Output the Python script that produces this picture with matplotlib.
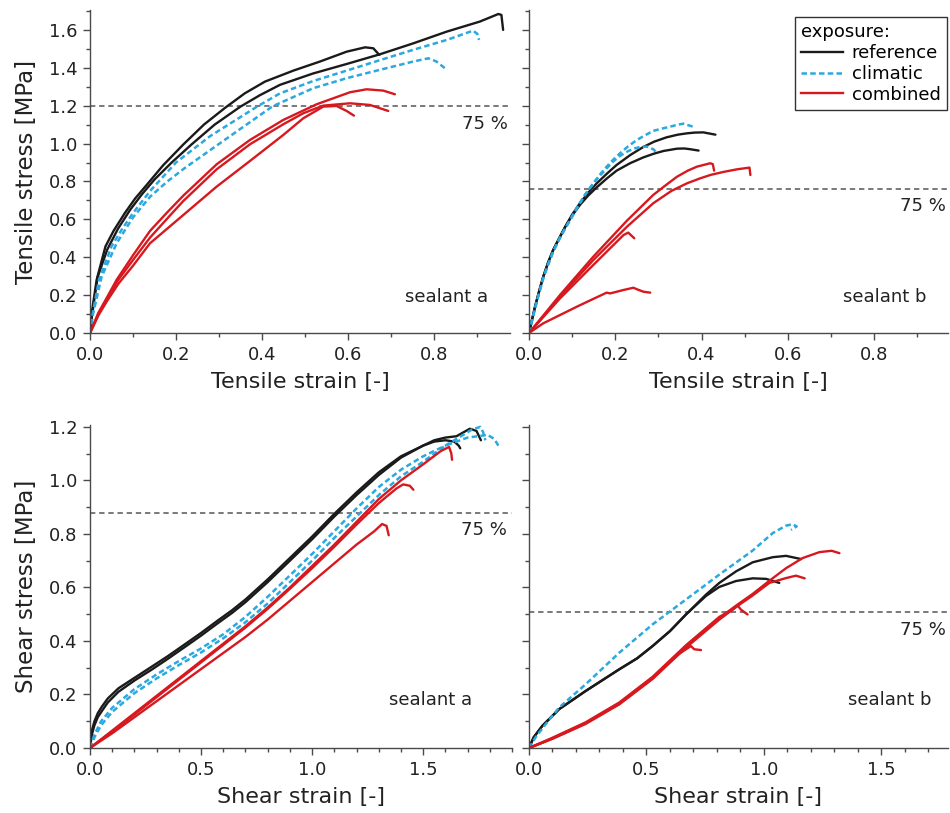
import matplotlib
matplotlib.use("Agg")
import matplotlib.pyplot as plt
import matplotlib.transforms as mtransforms
from matplotlib.lines import Line2D
from matplotlib.ticker import MultipleLocator

plt.rcParams['font.family'] = ['DejaVu Sans']

# ---------------- tensile test, sealant a ----------------
ta_ref1_x = [0, 0.004, 0.0155, 0.036, 0.055, 0.081, 0.105, 0.135, 0.17, 0.217, 0.265, 0.315, 0.36, 0.407, 0.473, 0.535, 0.597, 0.640, 0.659, 0.673]
ta_ref1_y = [0, 0.105, 0.281, 0.457, 0.54, 0.633, 0.71, 0.79, 0.885, 0.995, 1.10, 1.19, 1.265, 1.327, 1.385, 1.433, 1.485, 1.508, 1.503, 1.468]
ta_ref2_x = [0, 0.005, 0.018, 0.040, 0.065, 0.093, 0.12, 0.15, 0.19, 0.236, 0.29, 0.35, 0.395, 0.442, 0.519, 0.597, 0.674, 0.752, 0.830, 0.907, 0.950, 0.957, 0.961]
ta_ref2_y = [0, 0.100, 0.297, 0.440, 0.55, 0.649, 0.73, 0.81, 0.90, 0.995, 1.10, 1.195, 1.255, 1.31, 1.37, 1.42, 1.471, 1.529, 1.591, 1.644, 1.684, 1.679, 1.600]
ta_cli1_x = [0, 0.006, 0.021, 0.050, 0.075, 0.100, 0.14, 0.20, 0.28, 0.39, 0.442, 0.519, 0.597, 0.674, 0.752, 0.830, 0.891, 0.901, 0.905]
ta_cli1_y = [0, 0.10, 0.281, 0.457, 0.55, 0.633, 0.75, 0.90, 1.04, 1.197, 1.265, 1.33, 1.385, 1.44, 1.495, 1.547, 1.596, 1.579, 1.547]
ta_cli2_x = [0, 0.007, 0.027, 0.062, 0.10, 0.14, 0.18, 0.22, 0.32, 0.425, 0.519, 0.597, 0.674, 0.752, 0.787, 0.806, 0.826]
ta_cli2_y = [0, 0.10, 0.297, 0.474, 0.61, 0.72, 0.80, 0.87, 1.03, 1.197, 1.292, 1.345, 1.389, 1.433, 1.450, 1.433, 1.397]
ta_com1_x = [0, 0.019, 0.04, 0.062, 0.1, 0.1395, 0.178, 0.2171, 0.2946, 0.3721, 0.4496, 0.5271, 0.6047, 0.6434, 0.6822, 0.7093]
ta_com1_y = [0, 0.105, 0.19, 0.281, 0.41, 0.5385, 0.633, 0.7251, 0.8905, 1.019, 1.1246, 1.2073, 1.2707, 1.2865, 1.2795, 1.2601]
ta_com2_x = [0, 0.02, 0.04, 0.064, 0.1, 0.1395, 0.19, 0.2171, 0.2946, 0.3721, 0.4496, 0.4961, 0.5426, 0.6047, 0.6512, 0.6938]
ta_com2_y = [0, 0.10, 0.18, 0.275, 0.385, 0.5033, 0.63, 0.6969, 0.8641, 0.9961, 1.1017, 1.16, 1.2003, 1.2126, 1.2038, 1.1721]
ta_com3_x = [0, 0.02, 0.04, 0.066, 0.1, 0.1395, 0.2171, 0.2946, 0.3721, 0.4496, 0.4961, 0.5426, 0.5736, 0.5969, 0.614]
ta_com3_y = [0, 0.095, 0.17, 0.26, 0.355, 0.4734, 0.623, 0.7726, 0.9081, 1.0454, 1.1334, 1.195, 1.1985, 1.1721, 1.1475]

# ---------------- tensile test, sealant b ----------------
tb_ref1_x = [0, 0.007, 0.014, 0.024, 0.033, 0.044, 0.056, 0.07, 0.084, 0.1, 0.118, 0.137, 0.157, 0.18, 0.203, 0.235, 0.265, 0.29, 0.319, 0.345, 0.366, 0.385, 0.404, 0.432]
tb_ref1_y = [0, 0.07, 0.139, 0.225, 0.297, 0.37, 0.438, 0.50, 0.561, 0.625, 0.685, 0.74, 0.790, 0.84, 0.887, 0.94, 0.982, 1.01, 1.033, 1.047, 1.054, 1.058, 1.059, 1.047]
tb_ref2_x = [0, 0.007, 0.014, 0.024, 0.033, 0.044, 0.056, 0.07, 0.084, 0.1, 0.118, 0.137, 0.157, 0.18, 0.203, 0.235, 0.265, 0.29, 0.312, 0.343, 0.36, 0.374, 0.393]
tb_ref2_y = [0, 0.07, 0.139, 0.225, 0.297, 0.37, 0.438, 0.50, 0.561, 0.62, 0.676, 0.725, 0.769, 0.815, 0.857, 0.897, 0.927, 0.947, 0.961, 0.973, 0.974, 0.970, 0.963]
tb_cli1_x = [0, 0.007, 0.014, 0.024, 0.033, 0.044, 0.056, 0.07, 0.084, 0.1, 0.114, 0.13, 0.149, 0.165, 0.180, 0.195, 0.211, 0.230, 0.250, 0.27, 0.288, 0.31, 0.327, 0.345, 0.358, 0.380]
tb_cli1_y = [0, 0.065, 0.130, 0.215, 0.289, 0.36, 0.429, 0.495, 0.553, 0.615, 0.671, 0.73, 0.790, 0.838, 0.878, 0.915, 0.949, 0.986, 1.019, 1.045, 1.067, 1.08, 1.089, 1.10, 1.105, 1.089]
tb_cli2_x = [0, 0.007, 0.014, 0.024, 0.033, 0.044, 0.056, 0.07, 0.084, 0.1, 0.114, 0.13, 0.149, 0.165, 0.180, 0.195, 0.211, 0.228, 0.242, 0.258, 0.273, 0.288, 0.296]
tb_cli2_y = [0, 0.065, 0.130, 0.215, 0.289, 0.36, 0.429, 0.495, 0.553, 0.615, 0.671, 0.73, 0.790, 0.832, 0.869, 0.905, 0.935, 0.958, 0.973, 0.982, 0.984, 0.970, 0.952]
tb_com1_x = [0, 0.072, 0.149, 0.227, 0.288, 0.330, 0.366, 0.395, 0.420, 0.45, 0.482, 0.511, 0.513]
tb_com1_y = [0, 0.192, 0.385, 0.561, 0.685, 0.750, 0.790, 0.815, 0.834, 0.85, 0.864, 0.873, 0.834]
tb_com2_x = [0, 0.072, 0.149, 0.227, 0.288, 0.318, 0.343, 0.368, 0.389, 0.420, 0.426, 0.429]
tb_com2_y = [0, 0.201, 0.403, 0.593, 0.729, 0.782, 0.825, 0.857, 0.878, 0.896, 0.891, 0.857]
tb_com3_x = [0, 0.072, 0.149, 0.219, 0.230, 0.236, 0.244]
tb_com3_y = [0, 0.183, 0.359, 0.517, 0.530, 0.517, 0.500]
tb_com4_x = [0, 0.033, 0.072, 0.111, 0.149, 0.180, 0.188, 0.219, 0.242, 0.250, 0.265, 0.281]
tb_com4_y = [0, 0.051, 0.095, 0.139, 0.180, 0.213, 0.209, 0.227, 0.239, 0.231, 0.218, 0.213]

# ---------------- shear test, sealant a ----------------
sa_ref1_x = [0, 0.005, 0.01, 0.02, 0.035, 0.053, 0.08, 0.128, 0.2, 0.278, 0.35, 0.428, 0.5, 0.578, 0.64, 0.7, 0.8, 0.9, 1.0, 1.1, 1.2, 1.3, 1.4, 1.5, 1.55, 1.6, 1.65, 1.71, 1.74, 1.76]
sa_ref1_y = [0, 0.04, 0.07, 0.10, 0.13, 0.154, 0.185, 0.223, 0.262, 0.304, 0.343, 0.388, 0.43, 0.478, 0.515, 0.555, 0.63, 0.71, 0.79, 0.875, 0.955, 1.03, 1.09, 1.13, 1.15, 1.16, 1.165, 1.193, 1.185, 1.15]
sa_ref2_x = [0, 0.005, 0.01, 0.02, 0.035, 0.055, 0.08, 0.128, 0.2, 0.278, 0.35, 0.428, 0.5, 0.578, 0.64, 0.7, 0.8, 0.9, 1.0, 1.1, 1.2, 1.3, 1.4, 1.5, 1.55, 1.6, 1.64, 1.66, 1.667]
sa_ref2_y = [0, 0.03, 0.055, 0.085, 0.115, 0.14, 0.17, 0.21, 0.252, 0.293, 0.333, 0.378, 0.42, 0.468, 0.505, 0.545, 0.62, 0.70, 0.78, 0.865, 0.945, 1.02, 1.085, 1.13, 1.145, 1.15, 1.145, 1.13, 1.12]
sa_cli1_x = [0, 0.02, 0.05, 0.1, 0.2, 0.3, 0.4, 0.5, 0.6, 0.7, 0.8, 0.9, 1.0, 1.1, 1.2, 1.3, 1.4, 1.5, 1.6, 1.67, 1.72, 1.757, 1.77, 1.78]
sa_cli1_y = [0, 0.05, 0.10, 0.15, 0.22, 0.275, 0.325, 0.372, 0.425, 0.49, 0.565, 0.645, 0.725, 0.81, 0.895, 0.975, 1.04, 1.09, 1.13, 1.165, 1.19, 1.20, 1.18, 1.15]
sa_cli2_x = [0, 0.02, 0.05, 0.1, 0.2, 0.3, 0.4, 0.5, 0.6, 0.7, 0.8, 0.9, 1.0, 1.1, 1.2, 1.3, 1.4, 1.5, 1.6, 1.7, 1.79, 1.82, 1.84]
sa_cli2_y = [0, 0.04, 0.085, 0.135, 0.205, 0.26, 0.31, 0.357, 0.41, 0.47, 0.54, 0.62, 0.70, 0.785, 0.865, 0.945, 1.015, 1.07, 1.13, 1.16, 1.17, 1.155, 1.128]
sa_com1_x = [0, 0.1, 0.2, 0.3, 0.4, 0.5, 0.6, 0.7, 0.8, 0.9, 1.0, 1.1, 1.2, 1.3, 1.4, 1.5, 1.58, 1.617, 1.627, 1.63]
sa_com1_y = [0, 0.065, 0.13, 0.195, 0.26, 0.325, 0.39, 0.455, 0.525, 0.60, 0.68, 0.76, 0.845, 0.93, 1.0, 1.06, 1.11, 1.125, 1.10, 1.077]
sa_com2_x = [0, 0.1, 0.2, 0.3, 0.4, 0.5, 0.6, 0.7, 0.8, 0.9, 1.0, 1.1, 1.2, 1.3, 1.38, 1.41, 1.44, 1.456]
sa_com2_y = [0, 0.062, 0.125, 0.19, 0.255, 0.32, 0.385, 0.45, 0.52, 0.595, 0.672, 0.752, 0.835, 0.915, 0.97, 0.985, 0.98, 0.965]
sa_com3_x = [0, 0.1, 0.2, 0.3, 0.4, 0.5, 0.6, 0.7, 0.8, 0.9, 1.0, 1.1, 1.2, 1.28, 1.315, 1.335, 1.345]
sa_com3_y = [0, 0.055, 0.115, 0.175, 0.235, 0.295, 0.355, 0.415, 0.48, 0.55, 0.62, 0.69, 0.76, 0.81, 0.837, 0.83, 0.795]

# ---------------- shear test, sealant b ----------------
sb_ref1_x = [0, 0.02, 0.057, 0.128, 0.241, 0.384, 0.46, 0.526, 0.6, 0.668, 0.753, 0.810, 0.881, 0.952, 1.037, 1.094, 1.158]
sb_ref1_y = [0, 0.04, 0.083, 0.145, 0.213, 0.294, 0.335, 0.381, 0.437, 0.499, 0.573, 0.617, 0.660, 0.694, 0.713, 0.718, 0.706]
sb_ref2_x = [0, 0.02, 0.057, 0.128, 0.241, 0.384, 0.46, 0.526, 0.6, 0.668, 0.753, 0.810, 0.881, 0.952, 1.009, 1.065]
sb_ref2_y = [0, 0.04, 0.083, 0.145, 0.213, 0.294, 0.335, 0.381, 0.437, 0.499, 0.568, 0.602, 0.624, 0.634, 0.632, 0.617]
sb_cli1_x = [0, 0.028, 0.071, 0.128, 0.241, 0.384, 0.526, 0.668, 0.810, 0.952, 1.037, 1.094, 1.122, 1.139, 1.115]
sb_cli1_y = [0, 0.040, 0.089, 0.151, 0.238, 0.356, 0.462, 0.555, 0.648, 0.738, 0.803, 0.831, 0.836, 0.828, 0.815]
sb_com1_x = [0, 0.099, 0.241, 0.384, 0.526, 0.668, 0.810, 0.881, 0.952, 1.023, 1.094, 1.165, 1.236, 1.288, 1.321]
sb_com1_y = [0, 0.036, 0.093, 0.167, 0.263, 0.381, 0.486, 0.532, 0.576, 0.625, 0.672, 0.710, 0.732, 0.737, 0.728]
sb_com2_x = [0, 0.099, 0.241, 0.384, 0.526, 0.668, 0.810, 0.881, 0.952, 1.023, 1.094, 1.136, 1.173]
sb_com2_y = [0, 0.034, 0.090, 0.163, 0.258, 0.375, 0.480, 0.527, 0.570, 0.617, 0.635, 0.644, 0.634]
sb_com3_x = [0, 0.099, 0.241, 0.384, 0.526, 0.668, 0.810, 0.867, 0.888, 0.902, 0.930]
sb_com3_y = [0, 0.038, 0.096, 0.170, 0.266, 0.384, 0.490, 0.517, 0.532, 0.517, 0.499]
sb_com4_x = [0, 0.099, 0.241, 0.384, 0.526, 0.625, 0.689, 0.703, 0.732]
sb_com4_y = [0, 0.035, 0.092, 0.165, 0.260, 0.344, 0.381, 0.369, 0.366]

# ---------------- styles ----------------
C_REF = '#1a1a1a'
C_CLI = '#2aa8e0'
C_COM = '#d7191f'
STYLE = {
    'ref': dict(color=C_REF, lw=1.7, ls='-'),
    'cli': dict(color=C_CLI, lw=1.8, ls=(0, (2.2, 1.3))),
    'com': dict(color=C_COM, lw=1.7, ls='-'),
}
AX_GREY = '#4a4a4a'
TXT = '#222222'

panels = [
    dict(
        rect=[90 / 950, 1 - 333 / 813, 420 / 950, 323 / 813],
        xlim=(0, 0.977), ylim=(0, 1.705), xmaj=0.2, xmin=0.1, ymaj=0.2, ymin=0.1,
        curves=[('ref', ta_ref1_x, ta_ref1_y), ('ref', ta_ref2_x, ta_ref2_y),
                ('cli', ta_cli1_x, ta_cli1_y), ('cli', ta_cli2_x, ta_cli2_y),
                ('com', ta_com1_x, ta_com1_y), ('com', ta_com2_x, ta_com2_y),
                ('com', ta_com3_x, ta_com3_y)],
        name='sealant a', name_pos=(0.85, 0.111), pct_dx=0.995,
        xlabel='Tensile strain [-]', ylabel='Tensile stress [MPa]', ylabels=True,
    ),
    dict(
        rect=[529 / 950, 1 - 333 / 813, 419 / 950, 323 / 813],
        xlim=(0, 0.971), ylim=(0, 1.705), xmaj=0.2, xmin=0.1, ymaj=0.2, ymin=0.1,
        curves=[('ref', tb_ref1_x, tb_ref1_y), ('ref', tb_ref2_x, tb_ref2_y),
                ('cli', tb_cli1_x, tb_cli1_y), ('cli', tb_cli2_x, tb_cli2_y),
                ('com', tb_com1_x, tb_com1_y), ('com', tb_com2_x, tb_com2_y),
                ('com', tb_com3_x, tb_com3_y), ('com', tb_com4_x, tb_com4_y)],
        name='sealant b', name_pos=(0.85, 0.111), pct_dx=0.995,
        xlabel='Tensile strain [-]', ylabel=None, ylabels=False,
    ),
    dict(
        rect=[90 / 950, 1 - 748 / 813, 422 / 950, 323 / 813],
        xlim=(0, 1.90), ylim=(0, 1.207), xmaj=0.5, xmin=0.1, ymaj=0.2, ymin=0.1,
        curves=[('ref', sa_ref1_x, sa_ref1_y), ('ref', sa_ref2_x, sa_ref2_y),
                ('cli', sa_cli1_x, sa_cli1_y), ('cli', sa_cli2_x, sa_cli2_y),
                ('com', sa_com1_x, sa_com1_y), ('com', sa_com2_x, sa_com2_y),
                ('com', sa_com3_x, sa_com3_y)],
        name='sealant a', name_pos=(0.808, 0.149), pct_dx=0.988,
        xlabel='Shear strain [-]', ylabel='Shear stress [MPa]', ylabels=True,
    ),
    dict(
        rect=[529 / 950, 1 - 748 / 813, 419 / 950, 323 / 813],
        xlim=(0, 1.783), ylim=(0, 1.207), xmaj=0.5, xmin=0.1, ymaj=0.2, ymin=0.1,
        curves=[('ref', sb_ref1_x, sb_ref1_y), ('ref', sb_ref2_x, sb_ref2_y),
                ('cli', sb_cli1_x, sb_cli1_y),
                ('com', sb_com1_x, sb_com1_y), ('com', sb_com2_x, sb_com2_y),
                ('com', sb_com3_x, sb_com3_y), ('com', sb_com4_x, sb_com4_y)],
        name='sealant b', name_pos=(0.862, 0.149), pct_dx=0.995,
        xlabel='Shear strain [-]', ylabel=None, ylabels=False,
    ),
]

fig = plt.figure(figsize=(9.5, 8.13), dpi=100)

for i, p in enumerate(panels):
    ax = fig.add_axes(p['rect'])
    for kind, xs, ys in p['curves']:
        ax.plot(xs, ys, solid_capstyle='round', solid_joinstyle='round',
                dash_capstyle='butt', **STYLE[kind])

    # 75 % of the mean reference strength
    ref_peaks = [max(ys) for kind, xs, ys in p['curves'] if kind == 'ref']
    level = 0.75 * sum(ref_peaks) / len(ref_peaks)
    ax.axhline(level, color='#555555', lw=1.1, ls=(0, (3.5, 2.5)), zorder=0)
    trans = mtransforms.blended_transform_factory(ax.transAxes, ax.transData)
    ax.annotate('75 %', xy=(p['pct_dx'], level), xycoords=trans,
                xytext=(0, -6), textcoords='offset points',
                ha='right', va='top', fontsize=13, color=TXT)

    ax.text(p['name_pos'][0], p['name_pos'][1], p['name'], transform=ax.transAxes,
            ha='center', va='center', fontsize=13, color=TXT)

    ax.set_xlim(*p['xlim'])
    ax.set_ylim(*p['ylim'])
    ax.xaxis.set_major_locator(MultipleLocator(p['xmaj']))
    ax.xaxis.set_minor_locator(MultipleLocator(p['xmin']))
    ax.yaxis.set_major_locator(MultipleLocator(p['ymaj']))
    ax.yaxis.set_minor_locator(MultipleLocator(p['ymin']))
    ax.xaxis.set_major_formatter(plt.FormatStrFormatter('%.1f'))
    ax.yaxis.set_major_formatter(plt.FormatStrFormatter('%.1f'))

    for side in ('top', 'right'):
        ax.spines[side].set_visible(False)
    for side in ('left', 'bottom'):
        ax.spines[side].set_color(AX_GREY)
        ax.spines[side].set_linewidth(1.0)

    ax.tick_params(which='both', direction='out', color=AX_GREY, width=1.0,
                   labelsize=13, labelcolor=TXT)
    ax.tick_params(which='major', length=5, pad=4)
    ax.tick_params(which='minor', length=3)
    if not p['ylabels']:
        ax.tick_params(axis='y', labelleft=False)

    ax.set_xlabel(p['xlabel'], fontsize=16, color=TXT, labelpad=6)
    if p['ylabel']:
        ax.set_ylabel(p['ylabel'], fontsize=16.5, color=TXT, labelpad=8)

    if i == 1:
        handles = [Line2D([], [], **STYLE['ref']),
                   Line2D([], [], **STYLE['cli']),
                   Line2D([], [], **STYLE['com'])]
        leg = ax.legend(handles, ['reference', 'climatic', 'combined'],
                        title='exposure:', loc='upper right',
                        bbox_to_anchor=(0.997, 0.978), fontsize=13,
                        title_fontsize=13, frameon=True, fancybox=False,
                        framealpha=1, edgecolor='#333333', borderpad=0.35,
                        labelspacing=0.15, handlelength=2.3, handletextpad=0.5,
                        borderaxespad=0, alignment='left')
        leg.get_frame().set_linewidth(1.0)

fig.savefig('out.png', dpi=100)
